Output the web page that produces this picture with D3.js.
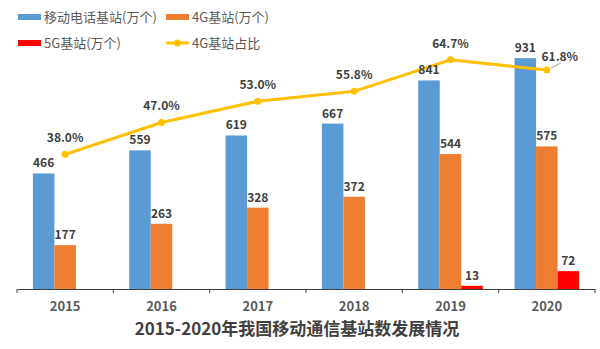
<!DOCTYPE html>
<html>
<head>
<meta charset="utf-8">
<script src="https://cdn.jsdelivr.net/npm/d3@7"></script>
<style>
  body { margin: 0; background: #fff; }
  svg { display: block; font-family: "Noto Sans CJK SC", "Noto Sans", sans-serif; }
</style>
</head>
<body>
<script>
'use strict';

// data
const years = ['2015', '2016', '2017', '2018', '2019', '2020'];
const mobileStations = [466, 559, 619, 667, 841, 931];
const stations4G = [177, 263, 328, 372, 544, 575];
const stations5G = [null, null, null, null, 13, 72];
const share4G = [38.0, 47.0, 53.0, 55.8, 64.7, 61.8];

const seriesNames = ['移动电话基站(万个)', '4G基站(万个)', '5G基站(万个)', '4G基站占比'];
const colors = ['#5B9BD5', '#ED7D31', '#FF0000', '#FFC000'];
const title = '2015-2020年我国移动通信基站数发展情况';

const W = 600, H = 349;
const margin = {top: 41, right: 5, bottom: 60, left: 17};
const plotW = W - margin.left - margin.right,
    plotH = H - margin.top - margin.bottom;

let svg = d3.select('body').append('svg')
    .attr('width', W)
    .attr('height', H);

let g = svg.append('g')
    .attr('transform', 'translate(' + margin.left + ',' + margin.top + ')');

let x = d3.scaleBand().domain(years).range([0, plotW]).paddingInner(0).paddingOuter(0);
let x1 = d3.scaleBand().domain([0, 1, 2]).range([0, x.bandwidth() * 0.67]);
let y = d3.scaleLinear().domain([0, 1000]).range([plotH, 0]);
let y2 = d3.scaleLinear().domain([0, 70]).range([plotH, 0]);

const groupOff = (x.bandwidth() - x1.range()[1]) / 2;

const barSeries = [mobileStations, stations4G, stations5G];
const barRows = barSeries.map(function (vals) {
  return years.map(function (yr, i) { return {year: yr, v: vals[i]}; })
      .filter(function (d) { return d.v != null; });
});

barRows.forEach(function (rows, s) {
  g.selectAll('.bar' + s)
      .data(rows).enter()
    .append('rect')
      .attr('x', function (d) { return x(d.year) + groupOff + x1(s); })
      .attr('y', function (d) { return y(d.v); })
      .attr('width', x1.bandwidth())
      .attr('height', function (d) { return plotH - y(d.v); })
      .attr('fill', colors[s]);
});

// x axis
let xAxis = g.append('g')
    .attr('transform', 'translate(0,' + plotH + ')')
    .call(d3.axisBottom(x).tickSize(0).tickPadding(13));
xAxis.select('.domain').attr('stroke', '#404040');
xAxis.selectAll('text')
    .attr('font-size', 13)
    .attr('font-weight', 'bold')
    .attr('fill', '#595959')
    .attr('font-family', '"Noto Sans CJK SC", sans-serif');

// tick marks at band edges
g.append('g').selectAll('line')
    .data(years.concat(['end']))
  .enter().append('line')
    .attr('x1', function (d, i) { return i * x.bandwidth(); })
    .attr('x2', function (d, i) { return i * x.bandwidth(); })
    .attr('y1', plotH)
    .attr('y2', plotH + 4)
    .attr('stroke', '#404040');

// 4G share line
const pts = years.map(function (yr, i) { return {year: yr, v: share4G[i]}; });
const cx = function (d) { return x(d.year) + x.bandwidth() / 2; };
const line = d3.line()
    .x(cx)
    .y(function (d) { return y2(d.v); });

g.append('path')
    .datum(pts)
    .attr('d', line)
    .attr('fill', 'none')
    .attr('stroke', colors[3])
    .attr('stroke-width', 3);

g.selectAll('.pt')
    .data(pts).enter()
  .append('circle')
    .attr('cx', cx)
    .attr('cy', function (d) { return y2(d.v); })
    .attr('r', 3.5)
    .attr('fill', colors[3]);

// bar labels
barRows.forEach(function (rows, s) {
  g.selectAll('.lab' + s)
      .data(rows).enter()
    .append('text')
      .attr('x', function (d) { return x(d.year) + groupOff + x1(s) + x1.bandwidth() / 2; })
      .attr('y', function (d) { return y(d.v) - 6; })
      .attr('text-anchor', 'middle')
      .attr('font-size', 12)
      .attr('font-weight', 'bold')
      .attr('fill', '#404040')
      .text(function (d) { return d.v; });
});

g.selectAll('.ptlab')
    .data(pts).enter()
  .append('text')
    .attr('x', function (d, i) { return cx(d) + (i === 5 ? 13 : 0); })
    .attr('y', function (d, i) { return y2(d.v) - (i === 5 ? 9 : 12); })
    .attr('text-anchor', 'middle')
    .attr('font-size', 12)
    .attr('font-weight', 'bold')
    .attr('fill', '#404040')
    .text(function (d) { return d.v.toFixed(1) + '%'; });

// leader line for the last label
const last = pts[5];
g.append('line')
    .attr('x1', cx(last) + 4)
    .attr('y1', y2(last.v) - 2)
    .attr('x2', cx(last) + 14)
    .attr('y2', y2(last.v) - 7)
    .attr('stroke', '#808080')
    .attr('stroke-width', 0.8);

// legend
const legendPos = [[18, 17], [166, 17], [18, 43], [166, 43]];
let legend = svg.append('g');
seriesNames.forEach(function (name, i) {
  const p = legendPos[i];
  if (i < 3) {
    legend.append('rect')
        .attr('x', p[0]).attr('y', p[1] - 3)
        .attr('width', 23).attr('height', 6)
        .attr('fill', colors[i]);
  } else {
    legend.append('line')
        .attr('x1', p[0]).attr('x2', p[0] + 23)
        .attr('y1', p[1]).attr('y2', p[1])
        .attr('stroke', colors[i]).attr('stroke-width', 3);
    legend.append('circle')
        .attr('cx', p[0] + 11.5).attr('cy', p[1])
        .attr('r', 3.5).attr('fill', colors[i]);
  }
  legend.append('text')
      .attr('x', p[0] + 26).attr('y', p[1] + 4.5)
      .attr('font-size', 13)
      .attr('fill', '#595959')
      .text(name);
});

// title
svg.append('text')
    .attr('x', 297)
    .attr('y', 335)
    .attr('text-anchor', 'middle')
    .attr('font-size', 17)
    .attr('font-weight', 'bold')
    .attr('fill', '#404040')
    .text(title);
</script>
</body>
</html>
